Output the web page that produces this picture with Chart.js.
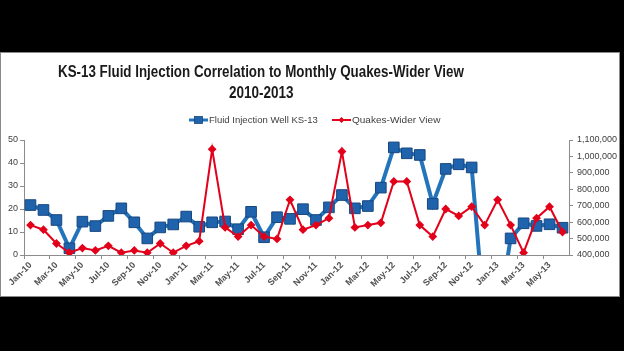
<!DOCTYPE html>
<html>
<head>
<meta charset="utf-8">
<script src="https://cdn.jsdelivr.net/npm/chart.js@4.4.1/dist/chart.umd.min.js"></script>
<style>
  html, body { margin: 0; padding: 0; background: #000; width: 624px; height: 351px; overflow: hidden; }
  #panel { position: absolute; left: 0; top: 52px; width: 620px; height: 245px; background: #fff; border: 1px solid #8a8a8a; box-sizing: border-box; }
  #chart { position: absolute; left: 1px; top: 52px; }
  .t { position: absolute; font-family: "Liberation Sans", Arial, sans-serif; font-weight: bold; font-size: 16px; color: #1a1a1a; white-space: nowrap; transform-origin: 0 50%; line-height: 20px; }
  .lg { position: absolute; font-family: "Liberation Sans", Arial, sans-serif; font-size: 9px; color: #404040; white-space: nowrap; transform-origin: 0 50%; line-height: 12px; }
  svg { position: absolute; }
</style>
</head>
<body>
<div id="panel"></div>
<canvas id="chart" width="619" height="245"></canvas>
<div class="t" id="t1" data-cx="261" data-w="406" style="top:62px;">KS-13 Fluid Injection Correlation to Monthly Quakes-Wider View</div>
<div class="t" id="t2" data-cx="261" data-w="65" style="top:83px;">2010-2013</div>
<svg style="left:189px; top:114px;" width="19" height="12"><line x1="0" y1="6" x2="19" y2="6" stroke="#2374BA" stroke-width="3"/><rect x="5.5" y="2.5" width="8" height="7" fill="#1F63AD" stroke="#18477F" stroke-width="0.8"/></svg>
<div class="lg" id="l1" data-x="209" data-w="109" style="top:114px;">Fluid Injection Well KS-13</div>
<svg style="left:332px; top:114px;" width="19" height="12"><line x1="0" y1="6" x2="19" y2="6" stroke="#E2001A" stroke-width="2"/><polygon points="9.5,3 12.5,6 9.5,9 6.5,6" fill="#E2001A"/></svg>
<div class="lg" id="l2" data-x="352" data-w="88" style="top:114px;">Quakes-Wider View</div>
<script>
const months = ["Jan-10","Feb-10","Mar-10","Apr-10","May-10","Jun-10","Jul-10","Aug-10","Sep-10","Oct-10","Nov-10","Dec-10",
  "Jan-11","Feb-11","Mar-11","Apr-11","May-11","Jun-11","Jul-11","Aug-11","Sep-11","Oct-11","Nov-11","Dec-11",
  "Jan-12","Feb-12","Mar-12","Apr-12","May-12","Jun-12","Jul-12","Aug-12","Sep-12","Oct-12","Nov-12","Dec-12",
  "Jan-13","Feb-13","Mar-13","Apr-13","May-13","Jun-13"];
const fluidInjection = [704000,674000,613000,441000,603000,576000,638000,684000,599000,501000,568000,586000,
  634000,572000,599000,604000,557000,663000,508000,630000,620000,679000,613000,690000,
  765000,684000,698000,810000,1055000,1019000,1009000,711000,924000,952000,933000,0,
  0,501000,593000,577000,587000,566000];
const quakes = [13,11,5,1,3,2,4,1,2,1,5,1,
  4,6,46,12,8,13,8,7,24,11,13,16,
  45,12,13,14,32,32,13,8,20,17,21,13,
  24,13,1,16,21,10];
const leftTicks = { min: 0, max: 50, step: 5 };
const rightTicks = { min: 400000, max: 1100000, step: 100000 };

// scale title texts horizontally to match reference widths
document.querySelectorAll('.t').forEach(el => {
  const w = el.offsetWidth, target = +el.dataset.w, cx = +el.dataset.cx;
  el.style.left = (cx - target / 2) + 'px';
  el.style.transform = 'scaleX(' + (target / w) + ')';
});
document.querySelectorAll('.lg').forEach(el => {
  const w = el.offsetWidth, target = +el.dataset.w;
  el.style.left = el.dataset.x + 'px';
  el.style.transform = 'scaleX(' + (target / w) + ')';
});

const axisGray = '#8c8c8c';
const tickFont = { family: '"Liberation Sans", Arial, sans-serif', size: 9 };

new Chart(document.getElementById('chart'), {
  type: 'line',
  data: {
    labels: months,
    datasets: [
      {
        label: 'Fluid Injection Well KS-13',
        data: fluidInjection,
        yAxisID: 'y1',
        borderColor: '#2374BA',
        borderWidth: 4,
        pointStyle: 'rect',
        pointRadius: 7.5,
        pointBackgroundColor: '#1F63AD',
        pointBorderColor: '#18477F',
        pointBorderWidth: 1,
        tension: 0,
        order: 2,
        clip: { left: 10, right: 10, top: 10, bottom: 0 }
      },
      {
        label: 'Quakes-Wider View',
        data: quakes,
        yAxisID: 'y',
        borderColor: '#E2001A',
        borderWidth: 2,
        pointStyle: 'rectRot',
        pointRadius: 3,
        pointBackgroundColor: '#E2001A',
        pointBorderColor: '#E2001A',
        tension: 0,
        order: 1,
        clip: { left: 10, right: 10, top: 10, bottom: 0 }
      }
    ]
  },
  options: {
    responsive: false,
    animation: false,
    layout: { padding: { top: 88, left: 0, right: 0, bottom: 0 } },
    plugins: { legend: { display: false }, title: { display: false }, tooltip: { enabled: false } },
    scales: {
      x: {
        offset: true,
        grid: {
          offset: true, drawOnChartArea: false, tickLength: 4,
          color: (c) => (c.index % 2 === 0 ? axisGray : 'rgba(0,0,0,0)')
        },
        border: { color: axisGray },
        ticks: {
          autoSkip: false, minRotation: 45, maxRotation: 45, padding: 1,
          color: '#505050',
          font: { family: '"Liberation Sans", Arial, sans-serif', size: 9, weight: 'bold' },
          callback: function (v, i) { return i % 2 === 0 ? months[i] : ''; }
        },
        afterFit: (s) => { s.height = 42; s.paddingLeft = 0; s.paddingRight = 0; }
      },
      y: {
        position: 'left',
        min: leftTicks.min, max: leftTicks.max,
        grid: { drawOnChartArea: false, tickLength: 4, color: axisGray },
        border: { color: axisGray },
        ticks: { stepSize: leftTicks.step, color: '#404040', font: tickFont, padding: 2 },
        afterFit: (s) => { s.width = 23; s.paddingTop = 0; s.paddingBottom = 0; }
      },
      y1: {
        position: 'right',
        min: rightTicks.min, max: rightTicks.max,
        grid: { drawOnChartArea: false, tickLength: 4, color: axisGray },
        border: { color: axisGray },
        ticks: {
          stepSize: rightTicks.step, color: '#404040', font: tickFont, padding: 4,
          callback: (v) => v.toLocaleString('en-US')
        },
        afterFit: (s) => { s.width = 51; s.paddingTop = 0; s.paddingBottom = 0; }
      }
    }
  }
});
</script>
</body>
</html>
